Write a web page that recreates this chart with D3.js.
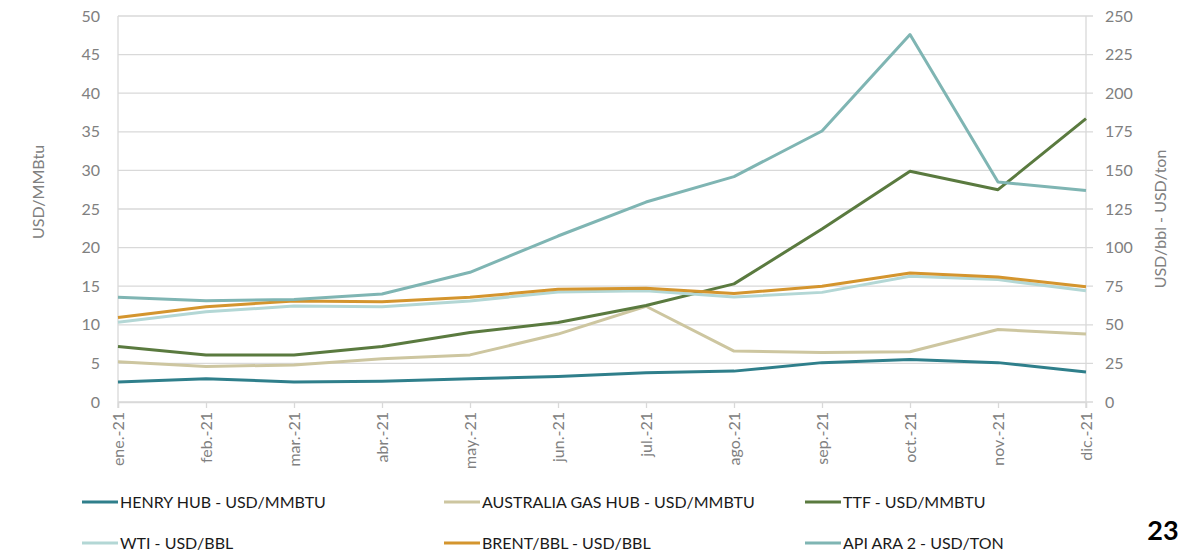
<!DOCTYPE html>
<html>
<head>
<meta charset="utf-8">
<script src="https://cdn.jsdelivr.net/npm/d3@7"></script>
<style>
  body { margin: 0; background: #fff; }
  svg { font-family: Lato, "Open Sans", sans-serif; }
</style>
</head>
<body>
<div class="chart"></div>
<script>
var WIDTH = 1196, HEIGHT = 555;
var margin = { top: 16, right: 110, bottom: 153, left: 118 },
    width = WIDTH - margin.left - margin.right,
    height = HEIGHT - margin.top - margin.bottom;

// data
var months = ["ene.-21", "feb.-21", "mar.-21", "abr.-21", "may.-21", "jun.-21",
    "jul.-21", "ago.-21", "sep.-21", "oct.-21", "nov.-21", "dic.-21"];
// left axis (USD/MMBtu)
var henryHub = [2.6, 3.0, 2.6, 2.7, 3.0, 3.3, 3.8, 4.0, 5.1, 5.5, 5.1, 3.9];
var australiaGasHub = [5.2, 4.6, 4.8, 5.6, 6.1, 8.8, 12.4, 6.6, 6.4, 6.5, 9.4, 8.8];
var ttf = [7.2, 6.1, 6.1, 7.2, 9.0, 10.3, 12.5, 15.3, 22.4, 29.9, 27.5, 36.7];
// right axis (USD/bbl - USD/ton)
var wti = [51.7, 58.5, 62.1, 61.7, 65.4, 71.3, 72.0, 68.0, 71.0, 81.5, 79.3, 72.0];
var brent = [54.7, 61.7, 65.4, 65.0, 67.8, 73.0, 73.7, 70.3, 75.0, 83.6, 81.0, 74.6];
var apiAra2 = [67.8, 65.6, 66.4, 70.0, 84.0, 107.5, 129.5, 146.0, 175.5, 238.0, 142.5, 137.0];

var leftTicks = [0, 5, 10, 15, 20, 25, 30, 35, 40, 45, 50];
var rightTicks = [0, 25, 50, 75, 100, 125, 150, 175, 200, 225, 250];

var series = [
    { name: "HENRY HUB - USD/MMBTU", values: henryHub, axis: "left", color: "#2f7f8b" },
    { name: "AUSTRALIA GAS HUB - USD/MMBTU", values: australiaGasHub, axis: "left", color: "#cdc6a0" },
    { name: "TTF - USD/MMBTU", values: ttf, axis: "left", color: "#5a7a3f" },
    { name: "WTI - USD/BBL", values: wti, axis: "right", color: "#b3d7d5" },
    { name: "BRENT/BBL - USD/BBL", values: brent, axis: "right", color: "#d4952e" },
    { name: "API ARA 2 - USD/TON", values: apiAra2, axis: "right", color: "#7fb5b3" }
];

// scales
var xScale = d3.scalePoint()
    .domain(months)
    .range([0, width]);

var yLeft = d3.scaleLinear().domain([0, 50]).range([height, 0]);
var yRight = d3.scaleLinear().domain([0, 250]).range([height, 0]);

var svg = d3.select('.chart').append("svg")
    .attr('width', WIDTH)
    .attr('height', HEIGHT);

var rootGroup = svg.append("g")
    .attr("transform", "translate(" + margin.left + "," + margin.top + ")");

var gridColor = "#d9d9d9", textColor = "#808080";

// gridlines (extend past the right axis like excel ticks)
rootGroup.selectAll("line.grid")
    .data(leftTicks)
    .enter()
    .append("line")
    .attr("class", "grid")
    .attr("x1", 0)
    .attr("x2", width + 7)
    .attr("y1", d => yLeft(d))
    .attr("y2", d => yLeft(d))
    .attr("stroke", gridColor)
    .attr("stroke-width", 1.3);

// left axis
var leftAxis = rootGroup.append("g")
    .call(d3.axisLeft(yLeft).tickValues(leftTicks).tickSize(0).tickPadding(18));
leftAxis.select(".domain").attr("stroke", gridColor).attr("stroke-width", 1.3)
    .attr("d", "M0," + (height + 6) + "V0");

// right axis
var rightAxis = rootGroup.append("g")
    .attr("transform", "translate(" + width + ",0)")
    .call(d3.axisRight(yRight).tickValues(rightTicks).tickSize(0).tickPadding(19));
rightAxis.select(".domain").attr("stroke", gridColor).attr("stroke-width", 1.3)
    .attr("d", "M0," + (height + 6) + "V0");

// bottom axis
var xAxis = rootGroup.append("g")
    .attr("transform", "translate(0," + height + ")")
    .call(d3.axisBottom(xScale).tickSize(6).tickPadding(8));
xAxis.select(".domain").attr("stroke", gridColor).attr("stroke-width", 1.3);
xAxis.selectAll(".tick line").attr("stroke", gridColor).attr("stroke-width", 1.3);
xAxis.selectAll(".tick text")
    .attr("transform", "rotate(-90)")
    .attr("x", -10)
    .attr("y", 0)
    .attr("dy", "0.35em")
    .style("text-anchor", "end");

svg.selectAll(".tick text")
    .attr("fill", textColor)
    .style("font-size", "16px")
    .style("font-family", "Lato, sans-serif");

// axis titles
svg.append("text")
    .attr("transform", "translate(44," + (margin.top + height / 2 - 17) + ") rotate(-90)")
    .style("text-anchor", "middle")
    .attr("fill", textColor)
    .style("font-size", "16px")
    .text("USD/MMBtu");

svg.append("text")
    .attr("transform", "translate(1166,219) rotate(-90)")
    .style("text-anchor", "middle")
    .attr("fill", textColor)
    .style("font-size", "16px")
    .text("USD/bbl - USD/ton");

// lines
series.forEach(function (s) {
    var yScale = s.axis == "left" ? yLeft : yRight;
    var line = d3.line()
        .x((d, i) => xScale(months[i]))
        .y(d => yScale(d));
    rootGroup.append("path")
        .datum(s.values)
        .attr("fill", "none")
        .attr("stroke", s.color)
        .attr("stroke-width", 3)
        .attr("stroke-linejoin", "round")
        .attr("d", line);
});

// legend
var legendX = [82, 444, 805], legendY = [502, 543];
var legend = svg.append("g");
series.forEach(function (s, i) {
    var lx = legendX[i % 3], ly = legendY[Math.floor(i / 3)];
    legend.append("line")
        .attr("x1", lx).attr("x2", lx + 36)
        .attr("y1", ly).attr("y2", ly)
        .attr("stroke", s.color)
        .attr("stroke-width", 3);
    legend.append("text")
        .attr("x", lx + 38)
        .attr("y", ly + 6)
        .attr("fill", "#1a1a1a")
        .style("font-size", "16px")
        .text(s.name);
});

// page number
svg.append("text")
    .attr("x", 1163)
    .attr("y", 540)
    .style("text-anchor", "middle")
    .style("font-size", "27px")
    .style("font-weight", "bold")
    .attr("fill", "#000")
    .text("23");
</script>
</body>
</html>
